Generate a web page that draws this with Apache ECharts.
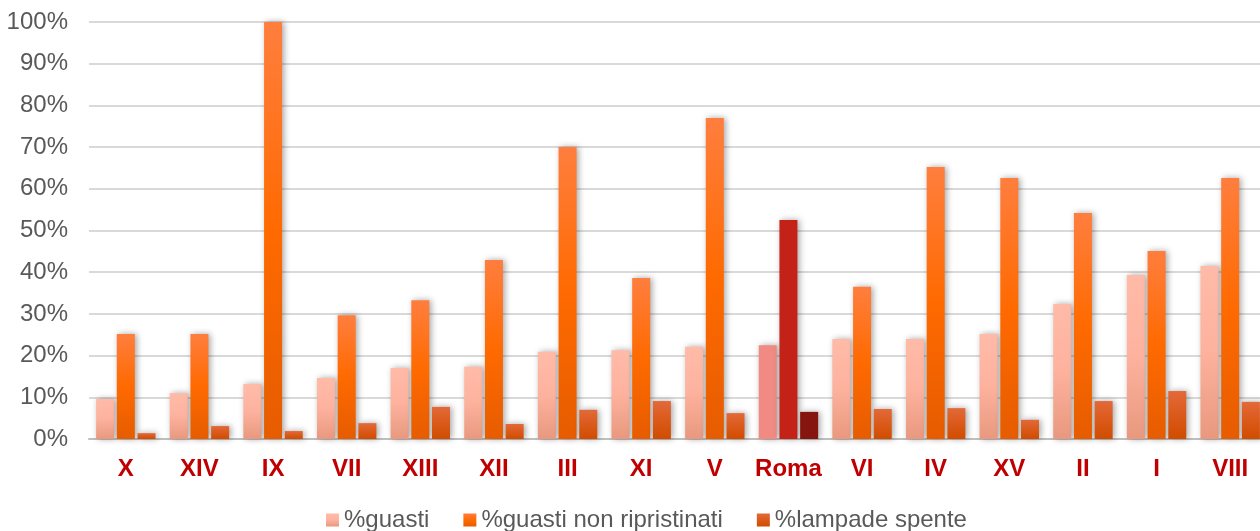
<!DOCTYPE html>
<html>
<head>
<meta charset="utf-8">
<script src="https://cdn.jsdelivr.net/npm/echarts@6/dist/echarts.min.js"></script>
<style>
html,body{margin:0;padding:0;background:#fff;}
#chart{width:1260px;height:531px;}
</style>
</head>
<body>
<div id="chart"></div>
<script>
const categories = ['X','XIV','IX','VII','XIII','XII','III','XI','V','Roma','VI','IV','XV','II','I','VIII'];
const guasti = [9.6,11.0,13.2,14.6,17.0,17.3,20.9,21.3,22.1,22.5,24.0,24.0,25.2,32.4,39.3,41.5];
const guastiNonRipristinati = [25.2,25.2,100,29.7,33.3,42.9,70.0,38.6,77.0,52.5,36.5,65.2,62.6,54.2,45.1,62.6];
const lampadeSpente = [1.4,3.1,1.9,3.8,7.7,3.6,7.0,9.1,6.2,6.5,7.2,7.4,4.6,9.1,11.5,8.9];
const yTicks = [0,10,20,30,40,50,60,70,80,90,100];
const seriesNames = ['%guasti','%guasti non ripristinati','%lampade spente'];

function grad(top, mid, bottom){
  return {type:'linear',x:0,y:0,x2:0,y2:1,colorStops:[
    {offset:0,color:top},{offset:0.5,color:mid},{offset:1,color:bottom}]};
}
const colors = [
  grad('#FFBBA8','#FDB29E','#E8987E'),
  grad('#FF7E3E','#FF6A00','#E65C00'),
  grad('#E2693A','#DB5A1A','#D04C00')
];
const romaColors = ['#F08A82','#C42216','#85150E'];
const shadow = {shadowColor:'rgba(0,0,0,0.35)',shadowBlur:6,shadowOffsetX:2,shadowOffsetY:0};
const FONT = 'Liberation Sans, Arial, sans-serif';

function buildData(values, si){
  return values.map((v,i)=> categories[i]==='Roma'
    ? {value:v,itemStyle:Object.assign({color:romaColors[si]},shadow)}
    : v);
}
const allValues = [guasti, guastiNonRipristinati, lampadeSpente];

const chart = echarts.init(document.getElementById('chart'));
chart.setOption({
  animation:false,
  textStyle:{fontFamily:FONT},
  grid:{left:89,width:1178,top:22,bottom:92,containLabel:false,outerBoundsMode:'none'},
  legend:{
    top:503,left:321,
    itemWidth:13,itemHeight:13,itemGap:34,
    icon:'rect',
    textStyle:{color:'#595959',fontSize:24,fontFamily:FONT},
    data:seriesNames
  },
  xAxis:{
    type:'category',data:categories,
    axisTick:{show:false},
    axisLine:{lineStyle:{color:'#BFBFBF',width:2}},
    axisLabel:{color:'#C00000',fontWeight:'bold',fontSize:24,margin:18,interval:0,fontFamily:FONT}
  },
  yAxis:{
    type:'value',min:yTicks[0],max:yTicks[yTicks.length-1],interval:10,
    axisLine:{show:false},axisTick:{show:false},
    splitLine:{lineStyle:{color:'#D9D9D9',width:2}},
    axisLabel:{color:'#595959',fontSize:24,margin:21,formatter:'{value}%',fontFamily:FONT}
  },
  series: seriesNames.map((name,si)=>({
    name:name,type:'bar',
    barWidth:18,barGap:'15%',
    itemStyle:Object.assign({color:colors[si]},shadow),
    data:buildData(allValues[si],si)
  }))
});
</script>
</body>
</html>
